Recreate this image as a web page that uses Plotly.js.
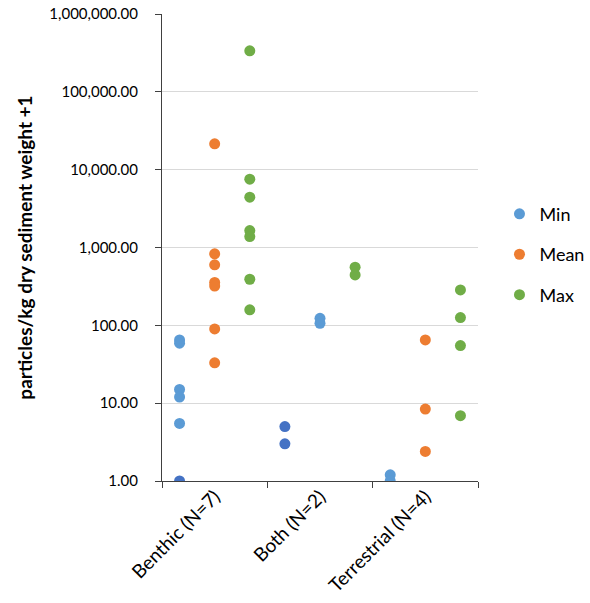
<!DOCTYPE html>
<html>
<head>
<meta charset="utf-8">
<script src="https://cdn.plot.ly/plotly-3.0.1.min.js"></script>
<style>
  html, body { margin: 0; padding: 0; background: #ffffff; }
  #chart { width: 590px; height: 603px; }
</style>
</head>
<body>
<div id="chart"></div>
<script>
// Habitat groups along the x axis
const categories = ['Benthic (N=7)', 'Both (N=2)', 'Terrestrial (N=4)'];

// Concentrations (particles/kg dry sediment weight + 1) per group
const minBenthic = [65, 59, 15, 12, 5.5];
const minBenthicLow = [1.0];
const minBoth = [5.0, 3.0];
const minBothUpper = [123, 106];
const minTerrestrial = [1.2, 1.0];

const meanBenthic = [21500, 830, 600, 355, 320, 90, 33];
const meanTerrestrial = [65, 8.4, 2.4];

const maxBenthic = [336000, 7550, 4430, 1650, 1380, 391, 158];
const maxBoth = [558, 444];
const maxTerrestrial = [285, 126, 55, 6.9];

// Each group occupies three slots: left (-1), centre (0), right (+1)
function slotX(groupIndex, slot, values) {
  return values.map(() => groupIndex * 3 + 2 + slot);
}
function pts(parts) {
  const x = [], y = [];
  parts.forEach(([g, s, vals]) => {
    x.push(...slotX(g, s, vals));
    y.push(...vals);
  });
  return { x, y };
}

const lightBlue = '#5B9BD5';
const darkBlue = '#4472C4';
const orange = '#ED7D31';
const green = '#70AD47';
const msize = 11;

const minPts = pts([[0, -1, minBenthic], [1, 0, minBothUpper], [2, -1, minTerrestrial]]);
const minLowPts = pts([[0, -1, minBenthicLow], [1, -1, minBoth]]);
const meanPts = pts([[0, 0, meanBenthic], [2, 0, meanTerrestrial]]);
const maxPts = pts([[0, 1, maxBenthic], [1, 1, maxBoth], [2, 1, maxTerrestrial]]);

const traces = [
  { type: 'scatter', mode: 'markers', name: 'Min', legendgroup: 'a',
    x: minPts.x, y: minPts.y, marker: { color: lightBlue, size: msize } },
  { type: 'scatter', mode: 'markers', name: 'Min', legendgroup: 'a', showlegend: false,
    x: minLowPts.x, y: minLowPts.y, marker: { color: darkBlue, size: msize } },
  { type: 'scatter', mode: 'markers', name: 'Mean', legendgroup: 'b',
    x: meanPts.x, y: meanPts.y, marker: { color: orange, size: msize } },
  { type: 'scatter', mode: 'markers', name: 'Max', legendgroup: 'c', xaxis: 'x2',
    x: maxPts.x, y: maxPts.y, marker: { color: green, size: msize } }
];

const fontFamily = 'Lato, "Open Sans", sans-serif';
const axisColor = '#404040';
const xRange = [0.5, 9.5];

const layout = {
  width: 590,
  height: 603,
  margin: { l: 162, r: 112, t: 14, b: 122, autoexpand: false },
  paper_bgcolor: '#ffffff',
  plot_bgcolor: '#ffffff',
  font: { family: fontFamily, size: 15, color: '#000000' },
  showlegend: true,
  hovermode: false,
  legend: {
    x: 1.068, xanchor: 'left', y: 0.611, yanchor: 'top',
    font: { family: fontFamily, size: 18, color: '#000000' },
    traceorder: 'grouped', tracegroupgap: 14,
    itemwidth: 30
  },
  xaxis: {
    range: xRange,
    tickvals: [0.5, 3.5, 6.5, 9.5],
    ticktext: ['', '', '', ''],
    ticks: 'outside', ticklen: 6, tickcolor: axisColor, tickwidth: 1,
    showgrid: false, zeroline: false,
    showline: true, linecolor: axisColor, linewidth: 1
  },
  xaxis2: {
    overlaying: 'x', matches: 'x', side: 'bottom',
    range: xRange,
    tickvals: [2, 5, 8],
    ticktext: categories,
    tickangle: -45,
    ticks: '', showgrid: false, zeroline: false, showline: false,
    tickfont: { family: fontFamily, size: 19, color: '#000000' }
  },
  yaxis: {
    type: 'log',
    range: [0, 6],
    dtick: 1,
    tickformat: ',.2f',
    ticks: 'outside', ticklen: 6, tickcolor: axisColor, tickwidth: 1,
    ticklabelstandoff: 14,
    showgrid: true, gridcolor: '#D9D9D9', gridwidth: 1,
    zeroline: false,
    showline: true, linecolor: axisColor, linewidth: 1,
    title: {
      text: 'particles/kg dry sediment weight +1',
      font: { family: fontFamily, size: 19, color: '#000000', weight: 'bold' },
      standoff: 11
    }
  }
};

Plotly.newPlot('chart', traces, layout, { displayModeBar: false, staticPlot: true });
</script>
</body>
</html>
